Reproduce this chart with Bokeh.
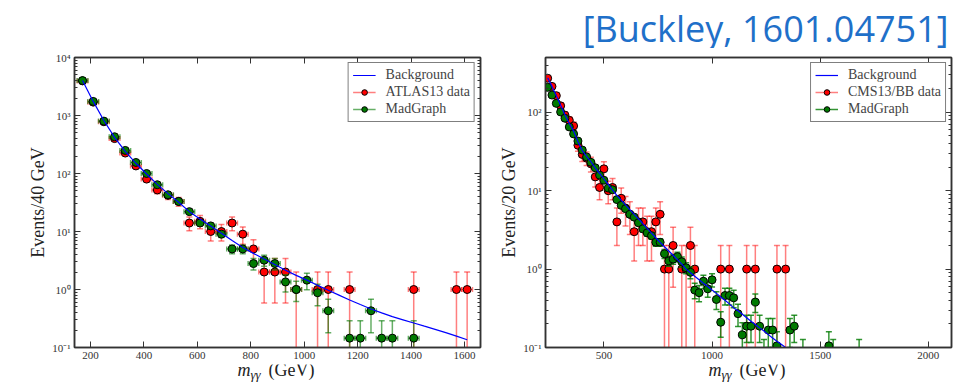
import numpy as np
from bokeh.plotting import figure
from bokeh.layouts import row, column
from bokeh.models import (ColumnDataSource, Range1d, FixedTicker, CustomJSTickFormatter,
                          LinearAxis, LogAxis, Legend, LegendItem, Label)
from bokeh.embed import file_html
from bokeh.resources import INLINE

SERIF = "Liberation Serif"

# ---------------- ATLAS 13 TeV diphoton spectrum, 40 GeV bins ----------------
atlas_bkg_mass = [170, 210, 250, 290, 330, 370, 410, 450, 490, 530, 570, 610, 650,
                  690, 730, 770, 810, 850, 890, 930, 970, 1010, 1050, 1090, 1130,
                  1170, 1210, 1250, 1290, 1330, 1370, 1410, 1450, 1490, 1530, 1570, 1610]
atlas_bkg = [4000, 1750, 820, 420, 240, 150, 98, 65, 45, 32, 22, 16.5, 12.4,
             9.3, 7.0, 5.3, 4.2, 3.35, 2.7, 2.15, 1.75, 1.45, 1.18, 0.97, 0.80,
             0.66, 0.55, 0.46, 0.395, 0.34, 0.30, 0.265, 0.233, 0.205, 0.18, 0.157, 0.136]

atlas_data_mass = [170, 210, 250, 290, 330, 370, 410, 450, 490, 530, 570, 610, 650,
                   690, 730, 770, 810, 850, 890, 930, 970, 1050, 1090, 1170, 1410,
                   1570, 1610]
atlas_data = [3950, 1700, 780, 400, 225, 135, 80, 52, 42, 33, 14, 15, 10,
              10, 14, 9, 5, 2, 2, 2, 1, 1, 1, 1, 1,
              1, 1]

atlas_mg_mass = [170, 210, 250, 290, 330, 370, 410, 450, 490, 530, 570, 610, 650,
                 690, 730, 770, 810, 850, 890, 930, 970, 1010, 1050, 1090,
                 1170, 1210, 1250, 1290, 1330, 1410]
atlas_mg = [4000, 1750, 800, 430, 250, 155, 100, 64, 43, 33, 22, 14, 12.5,
            9, 5, 5, 2.8, 3.2, 2.8, 1.35, 1.0, 1.45, 0.88, 0.43,
            0.145, 0.145, 0.43, 0.145, 0.145, 0.145]
atlas_mg_weight = 0.145      # weight of one generated event
atlas_half_bin = 20

# ---------------- CMS 13 TeV barrel-barrel spectrum, 20 GeV bins ----------------
cms_bkg_mass = [240, 260, 280, 300, 320, 340, 360, 380, 400, 420, 440, 460, 480,
                500, 520, 540, 560, 580, 600, 620, 640, 660, 680, 700, 720, 740,
                760, 780, 800, 820, 840, 860, 880, 900, 920, 940, 960, 980, 1000,
                1020, 1040, 1060, 1080, 1100, 1120, 1140, 1160, 1180, 1200, 1220,
                1240, 1260, 1280, 1300, 1320, 1340, 1360, 1380]
cms_bkg = [275, 214, 162, 123, 93, 72, 57.5, 42, 32.5, 27.5, 23.4, 19.5, 16.6,
           14.1, 12.0, 10.2, 8.7, 7.6, 6.6, 5.75, 5.0, 4.37, 3.8, 3.31, 2.88, 2.51,
           2.19, 1.93, 1.70, 1.50, 1.32, 1.16, 1.00, 0.90, 0.81, 0.73, 0.66, 0.60, 0.54,
           0.49, 0.44, 0.40, 0.36, 0.32, 0.295, 0.266, 0.24, 0.216, 0.197, 0.178,
           0.162, 0.146, 0.132, 0.12, 0.11, 0.10, 0.091, 0.083]

cms_data_mass = [240, 260, 280, 300, 320, 340, 360, 380, 400, 420,
                 440, 460, 480, 500, 520, 540, 560, 580, 600, 620,
                 640, 660, 680, 700, 720, 740, 760, 780, 800, 820,
                 860, 880, 900, 920, 1040, 1080, 1160, 1200, 1300, 1340]
cms_data = [272, 214, 163, 121, 92, 79, 67, 38, 29, 26,
            22, 15, 11, 19, 10, 11, 4, 8, 6, 5,
            3, 4, 4, 3, 3, 4, 5, 1, 1, 2,
            1, 1, 2, 1, 1, 1, 1, 1, 1, 1]

cms_mg_mass = [240, 260, 280, 300, 320, 340, 360, 380, 400, 420,
               440, 460, 480, 500, 520, 540, 560, 580, 600, 620,
               640, 660, 680, 700, 720, 740, 760, 780, 800, 820,
               840, 860, 880, 900, 920, 940, 960, 980, 1000, 1020,
               1040, 1060, 1080, 1100, 1120, 1140, 1160, 1180, 1200, 1220,
               1240, 1260, 1280, 1300, 1360, 1380, 1420, 1540, 1560, 1680]
cms_mg = [208, 166, 130, 101, 84, 65, 53, 43, 33, 27,
          23, 19.6, 15.8, 13.6, 10.8, 10.3, 7.7, 6.5, 5.9, 5.0,
          4.6, 3.9, 3.26, 2.9, 2.67, 2.2, 2.2, 1.57, 1.27, 1.34,
          1.44, 1.24, 1.04, 0.91, 0.54, 0.50, 0.70, 0.56, 0.73, 0.41,
          0.21, 0.46, 0.46, 0.43, 0.27, 0.145, 0.187, 0.187, 0.38, 0.187,
          0.08, 0.167, 0.167, 0.105, 0.167, 0.187, 0.08, 0.105, 0.08, 0.08]
cms_mg_weight = 0.027
cms_half_bin = 10

DATA_RED = "#ff0000"
MC_GREEN = "#007a00"
BKG_BLUE = "#0000ff"
AXIS_GREY = "#333333"

SUPERSCRIPT_CODE = """
    const e = Math.round(Math.log10(tick));
    const sup = {'-': '\u207b', '0': '\u2070', '1': '\u00b9', '2': '\u00b2', '3': '\u00b3',
                 '4': '\u2074', '5': '\u2075', '6': '\u2076', '7': '\u2077', '8': '\u2078', '9': '\u2079'};
    return '10' + String(e).split('').map(c => sup[c]).join('');
"""

TOP_H, PANEL_H, BOTTOM_H = 48, 316, 18


def log_ticker(lo_exp, hi_exp):
    majors = [10.0 ** k for k in range(lo_exp, hi_exp + 1)]
    minors = [m * 10.0 ** k for k in range(lo_exp, hi_exp + 1) for m in range(2, 10)]
    return FixedTicker(ticks=majors, minor_ticks=minors)


def style_axis(ax):
    ax.axis_line_color = AXIS_GREY
    ax.axis_line_width = 1.5
    ax.major_tick_line_color = AXIS_GREY
    ax.minor_tick_line_color = AXIS_GREY
    ax.major_tick_in = 6
    ax.major_tick_out = 0
    ax.minor_tick_in = 3
    ax.minor_tick_out = 0
    ax.major_label_text_font = SERIF
    ax.major_label_text_color = "#333333"
    ax.major_label_text_font_size = "11px"
    ax.major_label_standoff = 4
    ax.axis_label_text_font = SERIF
    ax.axis_label_text_font_size = "18px"
    ax.axis_label_text_font_style = "normal"
    ax.axis_label_text_color = "#222222"
    ax.axis_label_standoff = 1


def errorbars(p, mass, counts, err, half_bin, color, bar_alpha):
    x = np.asarray(mass, dtype=float)
    y = np.asarray(counts, dtype=float)
    e = np.asarray(err, dtype=float)
    src = ColumnDataSource(dict(x=x, y=y, lo=np.maximum(y - e, 1e-4), hi=y + e,
                                xl=x - half_bin, xr=x + half_bin))
    bar = dict(line_color=color, line_alpha=bar_alpha, line_width=1.5)
    p.segment(x0="x", y0="lo", x1="x", y1="hi", source=src, **bar)
    hbar = p.segment(x0="xl", y0="y", x1="xr", y1="y", source=src, **bar)
    for col in ("lo", "hi"):
        p.scatter(x="x", y=col, marker="dash", size=6, source=src, **bar)
    for col in ("xl", "xr"):
        p.scatter(x=col, y="y", marker="dash", angle=np.pi / 2, size=5, source=src, **bar)
    pts = p.scatter(x="x", y="y", marker="circle", size=8, fill_color=color,
                    line_color="black", line_width=1, source=src)
    return [hbar, pts]


def panel(width, border_left, border_right, border_top, xr, yr, yexp, xticks, ylabel,
          bkg_mass, bkg, data_mass, data, data_label, mg_mass, mg, mg_w, half_bin,
          mg_alpha):
    p = figure(width=width, height=PANEL_H, x_range=Range1d(*xr), y_range=Range1d(*yr),
               y_axis_type="log", output_backend="svg", toolbar_location=None,
               min_border_left=border_left, min_border_right=border_right,
               min_border_top=border_top, min_border_bottom=17)
    p.background_fill_color = "white"
    p.border_fill_color = "white"
    p.outline_line_color = AXIS_GREY
    p.outline_line_width = 1.5
    p.grid.visible = False

    xt = FixedTicker(ticks=xticks, minor_ticks=[])
    yt = log_ticker(*yexp)
    p.xaxis.ticker = xt
    p.yaxis.ticker = yt
    p.yaxis.formatter = CustomJSTickFormatter(code=SUPERSCRIPT_CODE)
    p.yaxis.axis_label = ylabel
    for ax in p.xaxis + p.yaxis:
        style_axis(ax)
    # tick marks on the opposite sides, without labels
    blank = CustomJSTickFormatter(code="return '';")
    top = LinearAxis(ticker=xt, formatter=blank)
    right = LogAxis(ticker=yt, formatter=blank)
    for ax in (top, right):
        style_axis(ax)
        ax.major_label_standoff = 0
        ax.major_label_text_font_size = "1px"
    p.add_layout(top, "above")
    p.add_layout(right, "right")

    data_err = np.sqrt(np.asarray(data, dtype=float))
    mg_err = np.sqrt(np.asarray(mg, dtype=float) * mg_w)
    data_r = errorbars(p, data_mass, data, data_err, half_bin, DATA_RED, 0.5)
    mg_r = errorbars(p, mg_mass, mg, mg_err, half_bin, MC_GREEN, mg_alpha)
    bkg_r = p.line(bkg_mass, bkg, line_color=BKG_BLUE, line_width=1.2)

    legend = Legend(items=[LegendItem(label="Background", renderers=[bkg_r]),
                           LegendItem(label=data_label, renderers=data_r),
                           LegendItem(label="MadGraph", renderers=mg_r)],
                    location="top_right", margin=5, padding=4, spacing=1,
                    glyph_width=23, glyph_height=14, label_height=14, label_standoff=10,
                    label_text_font=SERIF, label_text_font_size="14px",
                    border_line_color="black", border_line_width=1,
                    background_fill_color="white", background_fill_alpha=1)
    p.add_layout(legend)
    return p


def strip(height):
    # plain canvas with no axes, used for text that sits outside the panels
    s = figure(frame_width=966, frame_height=height,
               x_range=Range1d(0, 966), y_range=Range1d(0, height),
               x_axis_type=None, y_axis_type=None, output_backend="svg",
               toolbar_location=None, min_border=0)
    s.outline_line_color = None
    s.background_fill_color = "white"
    s.border_fill_color = "white"
    s.grid.visible = False
    return s


left = panel(490, 74, 10, 57 - TOP_H, (140, 1660), (0.1, 1e4), (-1, 4),
             [200, 400, 600, 800, 1000, 1200, 1400, 1600], "Events/40 GeV",
             atlas_bkg_mass, atlas_bkg, atlas_data_mass, atlas_data, "ATLAS13 data",
             atlas_mg_mass, atlas_mg, atlas_mg_weight, atlas_half_bin, 0.6)

right = panel(476, 55, 15, 51 - TOP_H, (230, 2107), (0.1, 500), (-1, 2),
              [500, 1000, 1500, 2000], "Events/20 GeV",
              cms_bkg_mass, cms_bkg, cms_data_mass, cms_data, "CMS13/BB data",
              cms_mg_mass, cms_mg, cms_mg_weight, cms_half_bin, 0.8)

# reference tag, top right
header = strip(TOP_H)
header.add_layout(Label(x=948, y=20, x_units="data", y_units="data",
                        text="[Buckley, 1601.04751]", text_align="right",
                        text_baseline="alphabetic", text_font="Open Sans",
                        text_font_size="36px", text_color="#1f70c9"))

# m_{gamma gamma} (GeV) under each panel
footer = strip(BOTTOM_H)
common = dict(x_units="data", y_units="data", text_font=SERIF,
              text_color="#222222", text_baseline="alphabetic")
for x0 in (237, 708):
    footer.add_layout(Label(x=x0, y=13, text="m", text_font_style="italic",
                            text_font_size="18px", **common))
    footer.add_layout(Label(x=x0 + 13, y=8, text="\u03b3\u03b3", text_font_style="italic",
                            text_font_size="13px", **common))
    footer.add_layout(Label(x=x0 + 31, y=13, text="(GeV)", text_font_size="18px", **common))

layout = column(header, row(left, right), footer)
open("out.html", "w").write(file_html(layout, INLINE))
